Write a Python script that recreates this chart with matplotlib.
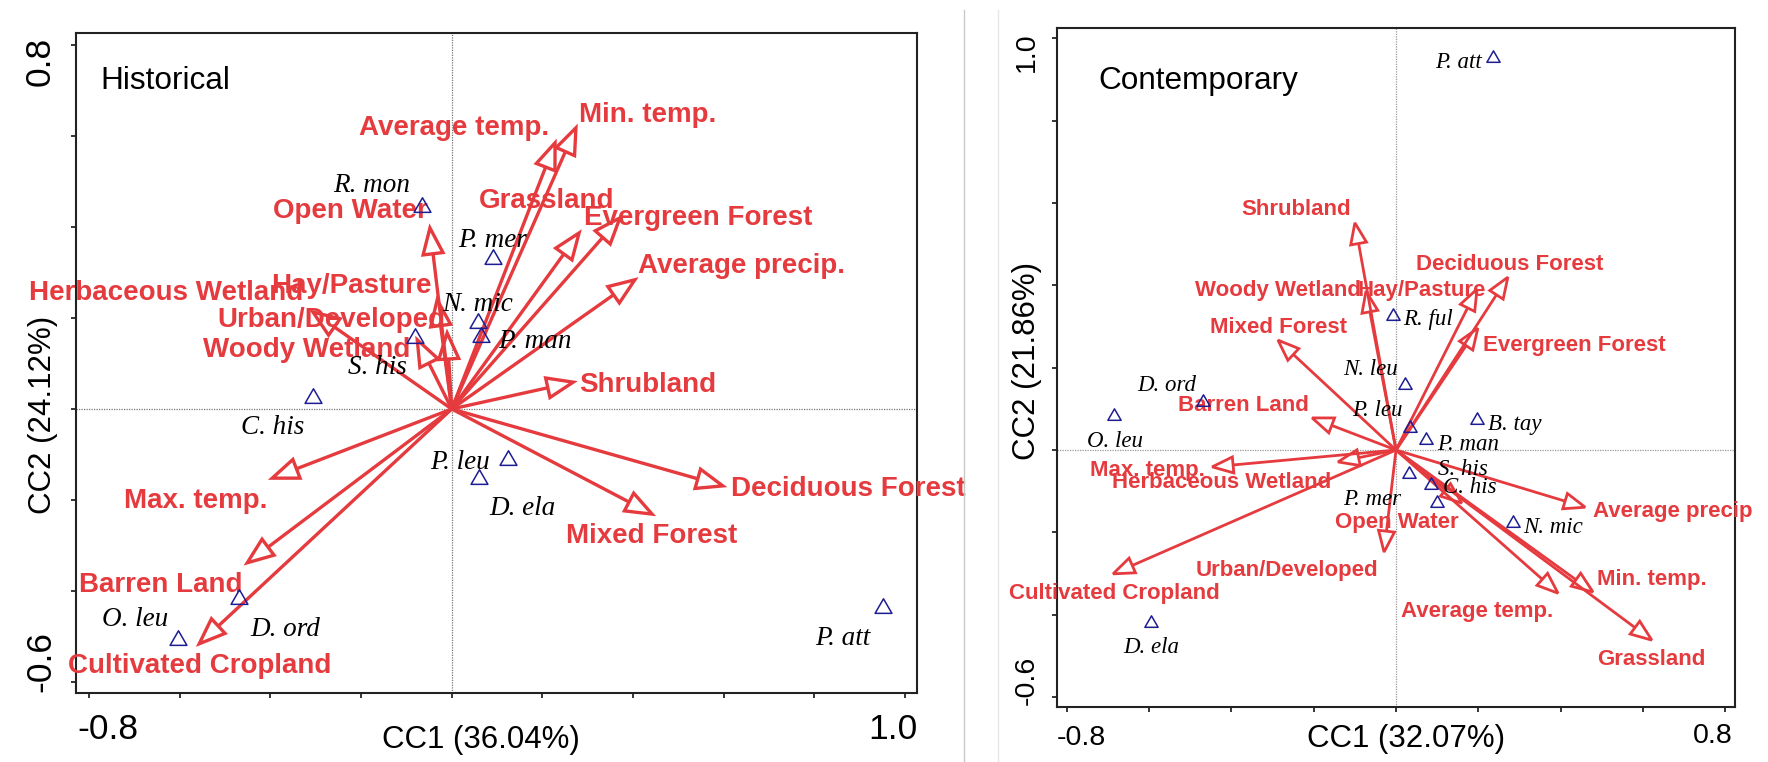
import numpy as np
import matplotlib
matplotlib.use("Agg")
import matplotlib.pyplot as plt
from matplotlib.patches import Polygon
from matplotlib.lines import Line2D
from matplotlib.path import Path

W, H, DPI = 1768, 762, 100
RED = "#e53a3e"
NAVY = "#1d1d93"
SANS = "Liberation Sans"
SERIF = "Liberation Serif"

# ---------------- Historical panel data ----------------
hist_env = ["Average temp.", "Min. temp.", "Grassland", "Evergreen Forest",
            "Average precip.", "Shrubland", "Deciduous Forest", "Mixed Forest",
            "Max. temp.", "Barren Land", "Cultivated Cropland", "Open Water",
            "Hay/Pasture", "Urban/Developed", "Woody Wetland", "Herbaceous Wetland"]
hist_env_cc1 = [0.228, 0.274, 0.281, 0.371, 0.404, 0.268, 0.598, 0.442,
                -0.396, -0.451, -0.557, -0.048, -0.032, -0.010, -0.076, -0.306]
hist_env_cc2 = [0.585, 0.618, 0.387, 0.420, 0.284, 0.059, -0.169, -0.231,
                -0.152, -0.338, -0.516, 0.398, 0.240, 0.167, 0.152, 0.213]
hist_lab_cc1 = [0.005, 0.433, 0.210, 0.543, 0.640, 0.433, 0.874, 0.440,
                -0.564, -0.641, -0.555, -0.224, -0.222, -0.266, -0.321, -0.630]
hist_lab_cc2 = [0.624, 0.653, 0.464, 0.426, 0.321, 0.059, -0.169, -0.273,
                -0.196, -0.380, -0.558, 0.442, 0.277, 0.202, 0.136, 0.262]

hist_sp = ["R. mon", "P. mer", "N. mic", "P. man", "S. his", "C. his",
           "P. leu", "D. ela", "P. att", "D. ord", "O. leu"]
hist_sp_cc1 = [-0.065, 0.091, 0.058, 0.064, -0.081, -0.306, 0.124, 0.060, 0.952, -0.469, -0.603]
hist_sp_cc2 = [0.444, 0.330, 0.189, 0.158, 0.156, 0.024, -0.112, -0.154, -0.437, -0.418, -0.508]
hist_sp_lab_cc1 = [-0.176, 0.089, 0.058, 0.184, -0.164, -0.396, 0.018, 0.157, 0.863, -0.367, -0.698]
hist_sp_lab_cc2 = [0.497, 0.378, 0.237, 0.156, 0.097, -0.035, -0.112, -0.213, -0.497, -0.477, -0.457]

# ---------------- Contemporary panel data ----------------
cont_env = ["Shrubland", "Woody Wetland", "Hay/Pasture", "Deciduous Forest",
            "Evergreen Forest", "Mixed Forest", "Barren Land", "Max. temp.",
            "Herbaceous Wetland", "Cultivated Cropland", "Urban/Developed",
            "Open Water", "Average precip", "Min. temp.", "Average temp.", "Grassland"]
cont_env_cc1 = [-0.100, -0.073, 0.197, 0.272, 0.199, -0.287, -0.204, -0.447,
                -0.141, -0.688, -0.029, 0.160, 0.460, 0.479, 0.394, 0.622]
cont_env_cc2 = [0.552, 0.386, 0.391, 0.420, 0.296, 0.267, 0.078, -0.041,
                -0.029, -0.301, -0.248, -0.129, -0.139, -0.345, -0.348, -0.462]
cont_lab_cc1 = [-0.243, -0.287, 0.063, 0.277, 0.433, -0.285, -0.372, -0.605,
                -0.423, -0.686, -0.265, 0.002, 0.674, 0.622, 0.197, 0.620]
cont_lab_cc2 = [0.591, 0.394, 0.394, 0.457, 0.260, 0.304, 0.114, -0.044,
                -0.073, -0.343, -0.287, -0.170, -0.143, -0.309, -0.386, -0.503]

cont_sp = ["P. att", "R. ful", "N. leu", "P. leu", "P. man", "B. tay", "P. mer",
           "S. his", "C. his", "N. mic", "D. ord", "O. leu", "D. ela"]
cont_sp_cc1 = [0.236, -0.007, 0.022, 0.034, 0.073, 0.197, 0.032, 0.085, 0.100, 0.285, -0.469, -0.686, -0.596]
cont_sp_cc2 = [0.953, 0.326, 0.158, 0.053, 0.024, 0.073, -0.058, -0.085, -0.129, -0.177, 0.117, 0.083, -0.420]
cont_sp_lab_cc1 = [0.151, 0.078, -0.063, -0.046, 0.175, 0.289, -0.058, 0.163, 0.180, 0.382, -0.557, -0.683, -0.596]
cont_sp_lab_cc2 = [0.948, 0.323, 0.202, 0.102, 0.019, 0.068, -0.114, -0.041, -0.085, -0.182, 0.163, 0.027, -0.474]

# ---------------- helpers ----------------
fig = plt.figure(figsize=(W / DPI, H / DPI), dpi=DPI)


def px_axes(l, t, r, b):
    return fig.add_axes([l / W, 1 - b / H, (r - l) / W, (b - t) / H])


def ftext(px, py, s, **kw):
    fig.text(px / W, 1 - py / H, s, **kw)


TRI = Path([(-1.0, -0.577), (1.0, -0.577), (0.0, 1.155), (-1.0, -0.577)],
           [Path.MOVETO, Path.LINETO, Path.LINETO, Path.CLOSEPOLY])


def panel(ax, xlim, ylim, xticks, yticks, env, ex, ey, lx, ly, sp, sx, sy, slx, sly,
          head_len, head_hw, lw, env_fs, sp_fs, ms, zero_color):
    ax.set_xlim(*xlim)
    ax.set_ylim(*ylim)
    ax.set_xticks(xticks)
    ax.set_yticks(yticks)
    ax.set_xticklabels([])
    ax.set_yticklabels([])
    ax.tick_params(direction="out", length=3.8, width=1.1, color="black")
    for s in ax.spines.values():
        s.set_linewidth(1.5)
        s.set_color("#222222")
    ax.axhline(0, color=zero_color, lw=0.9, ls=(0, (1, 1)), zorder=1)
    ax.axvline(0, color=zero_color, lw=0.9, ls=(0, (1, 1)), zorder=1)

    T = ax.transData
    inv = T.inverted()
    o = T.transform((0.0, 0.0))
    for x, y in zip(ex, ey):
        tip = T.transform((x, y))
        d = tip - o
        u = d / np.hypot(*d)
        n = np.array([-u[1], u[0]])
        base = tip - u * head_len
        shaft = inv.transform(np.array([o, base]))
        ax.plot(shaft[:, 0], shaft[:, 1], color=RED, lw=lw,
                solid_capstyle="butt", zorder=3)
        head = inv.transform(np.array([tip, base + n * head_hw, base - n * head_hw]))
        ax.add_patch(Polygon(head, closed=True, fill=False, edgecolor=RED,
                             lw=lw, joinstyle="miter", zorder=3))
    for name, x, y in zip(env, lx, ly):
        ax.text(x, y, name, color=RED, fontsize=env_fs, fontweight="bold",
                family=SANS, ha="center", va="center_baseline", zorder=4)
    ax.plot(sx, sy, ls="none", marker=TRI, ms=ms, mfc="none", mec=NAVY,
            mew=1.1, zorder=5)
    for name, x, y in zip(sp, slx, sly):
        ax.text(x, y, name, color="black", fontsize=sp_fs, family=SERIF,
                style="italic", ha="center", va="center_baseline", zorder=6)


# ---------------- Historical ----------------
axL = px_axes(76, 33, 917, 693)
panel(axL, (-0.8288, 1.0264), (-0.6242, 0.8264),
      np.arange(-0.8, 1.01, 0.2), np.arange(-0.6, 0.81, 0.2),
      hist_env, hist_env_cc1, hist_env_cc2, hist_lab_cc1, hist_lab_cc2,
      hist_sp, hist_sp_cc1, hist_sp_cc2, hist_sp_lab_cc1, hist_sp_lab_cc2,
      head_len=26, head_hw=10, lw=2.4, env_fs=20, sp_fs=19.5, ms=14, zero_color="#777777")

ftext(57, 37, "0.8", fontsize=25.5, family=SANS, rotation=90, ha="right", va="top")
ftext(57, 692, "-0.6", fontsize=25.5, family=SANS, rotation=90, ha="right", va="bottom")
ftext(77, 713, "-0.8", fontsize=25.5, family=SANS, ha="left", va="top")
ftext(917, 713, "1.0", fontsize=25.5, family=SANS, ha="right", va="top")
ftext(481, 740, "CC1 (36.04%)", fontsize=22.5, family=SANS, ha="center", va="center")
ftext(43, 415, "CC2 (24.12%)", fontsize=22.5, family=SANS, rotation=90, ha="center", va="center")
ftext(100, 89, "Historical", fontsize=22.7, family=SANS, ha="left", va="baseline")

# ---------------- Contemporary ----------------
axR = px_axes(1057, 28, 1735, 707)
panel(axR, (-0.8243, 0.8243), (-0.6245, 1.0255),
      np.arange(-0.8, 0.81, 0.2), np.arange(-0.6, 1.01, 0.2),
      cont_env, cont_env_cc1, cont_env_cc2, cont_lab_cc1, cont_lab_cc2,
      cont_sp, cont_sp_cc1, cont_sp_cc2, cont_sp_lab_cc1, cont_sp_lab_cc2,
      head_len=21, head_hw=8, lw=2.0, env_fs=16, sp_fs=16.5, ms=11, zero_color="#999999")

ftext(1040, 32, "1.0", fontsize=20.5, family=SANS, rotation=90, ha="right", va="top")
ftext(1040, 705, "-0.6", fontsize=20.5, family=SANS, rotation=90, ha="right", va="bottom")
ftext(1057, 725, "-0.8", fontsize=20.5, family=SANS, ha="left", va="top")
ftext(1733, 723, "0.8", fontsize=20.5, family=SANS, ha="right", va="top")
ftext(1406, 739, "CC1 (32.07%)", fontsize=22.5, family=SANS, ha="center", va="center")
ftext(1027, 361, "CC2 (21.86%)", fontsize=22.5, family=SANS, rotation=90, ha="center", va="center")
ftext(1098, 89, "Contemporary", fontsize=22.7, family=SANS, ha="left", va="baseline")

# separators between panels
fig.add_artist(Line2D([964 / W, 964 / W], [0, 1 - 10 / H], transform=fig.transFigure,
                      color="#c9c9c9", lw=1.0))
fig.add_artist(Line2D([998 / W, 998 / W], [0, 1 - 10 / H], transform=fig.transFigure,
                      color="#e6e6e6", lw=1.0))

fig.savefig("out.png", dpi=DPI)
